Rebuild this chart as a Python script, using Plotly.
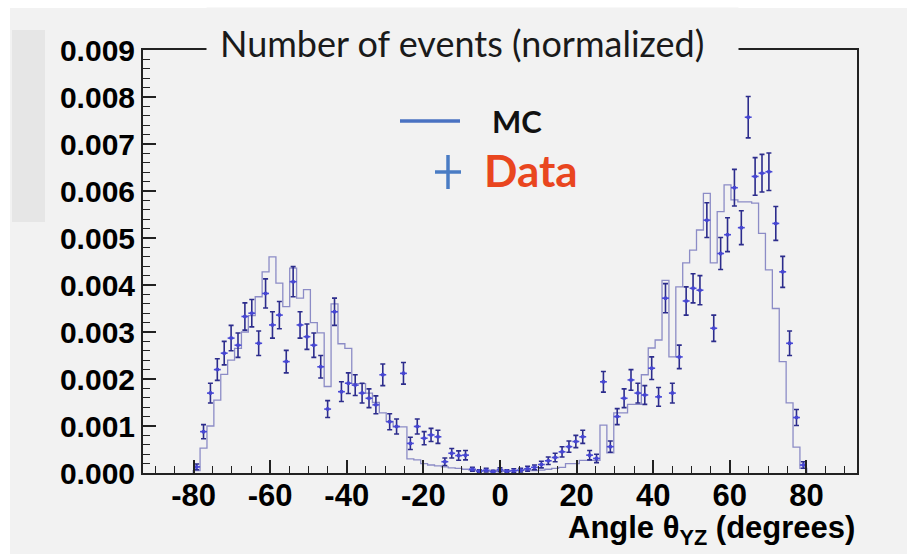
import plotly.graph_objects as go

# ---------------- data ----------------
bin_width = 1.8
bin_index = list(range(-44, 45))
angle_centers = [round(bin_width * k, 1) for k in bin_index]

data_vals = [
    0.00013, 0.00088, 0.00170, 0.00220, 0.00255, 0.00287, 0.00272, 0.00333, 0.00340, 0.00276,
    0.00382, 0.00315, 0.00336, 0.00237, 0.00407, 0.00315, 0.00290, 0.00272, 0.00226, 0.00136,
    0.00343, 0.00173, 0.00191, 0.00187, 0.00170, 0.00159, 0.00145, 0.00209, 0.00109, 0.00099,
    0.00212, 0.00063, 0.00099, 0.00074, 0.00081, 0.00077, 0.00024, 0.00042, 0.00037, 0.00038,
    0.00008, 0.00004, 0.00006, 0.00003, 0.00007, 0.00004, 0.00005, 0.00006, 0.00009, 0.00012,
    0.00018, 0.00026, 0.00033, 0.00045, 0.00056, 0.00067, 0.00077, 0.00038, 0.00031, 0.00194,
    0.00056, 0.00120, 0.00159, 0.00198, 0.00170, 0.00166, 0.00223, 0.00162, 0.00372, 0.00170,
    0.00247, 0.00366, 0.00393, 0.00389, 0.00538, 0.00308, 0.00467, 0.00507, 0.00607, 0.00522,
    0.00757, 0.00631, 0.00638, 0.00641, 0.00531, 0.00428, 0.00276, 0.00118, 0.00017,
]

data_errs = [
    0.00006, 0.00015, 0.00021, 0.00023, 0.00025, 0.00027, 0.00026, 0.00029, 0.00029, 0.00026,
    0.00031, 0.00028, 0.00029, 0.00024, 0.00032, 0.00028, 0.00027, 0.00026, 0.00024, 0.00018,
    0.00029, 0.00021, 0.00022, 0.00022, 0.00021, 0.00020, 0.00019, 0.00023, 0.00017, 0.00016,
    0.00023, 0.00013, 0.00016, 0.00014, 0.00014, 0.00014, 0.00008, 0.00010, 0.00010, 0.00010,
    0.00004, 0.00003, 0.00004, 0.00003, 0.00004, 0.00003, 0.00004, 0.00004, 0.00005, 0.00005,
    0.00007, 0.00008, 0.00009, 0.00011, 0.00012, 0.00013, 0.00014, 0.00010, 0.00009, 0.00022,
    0.00012, 0.00017, 0.00020, 0.00022, 0.00021, 0.00020, 0.00024, 0.00020, 0.00031, 0.00021,
    0.00025, 0.00030, 0.00031, 0.00031, 0.00037, 0.00028, 0.00034, 0.00036, 0.00039, 0.00036,
    0.00044, 0.00040, 0.00040, 0.00040, 0.00036, 0.00033, 0.00026, 0.00017, 0.00007,
]

mc_vals = [
    0.00005, 0.00053, 0.00100, 0.00155, 0.00210, 0.00240, 0.00265, 0.00300, 0.00335, 0.00375,
    0.00428, 0.00460, 0.00404, 0.00354, 0.00436, 0.00372, 0.00390, 0.00320, 0.00298, 0.00184,
    0.00360, 0.00275, 0.00265, 0.00190, 0.00190, 0.00170, 0.00150, 0.00128, 0.00110, 0.00098,
    0.00098, 0.00030, 0.00028, 0.00020, 0.00017, 0.00015, 0.00013, 0.00011, 0.00010, 0.00008,
    0.00006, 0.00005, 0.00004, 0.00004, 0.00005, 0.00004, 0.00005, 0.00006, 0.00007, 0.00005,
    0.00006, 0.00008, 0.00010, 0.00012, 0.00020, 0.00020, 0.00027, 0.00027, 0.00027, 0.00102,
    0.00043, 0.00128, 0.00128, 0.00146, 0.00146, 0.00209, 0.00266, 0.00283, 0.00410, 0.00247,
    0.00396, 0.00447, 0.00474, 0.00517, 0.00595, 0.00447, 0.00556, 0.00613, 0.00581, 0.00577,
    0.00577, 0.00574, 0.00510, 0.00432, 0.00350, 0.00237, 0.00149, 0.00055, 0.00010,
]

x_tick_vals = [-80, -60, -40, -20, 0, 20, 40, 60, 80]
y_tick_vals = [0.000, 0.001, 0.002, 0.003, 0.004, 0.005, 0.006, 0.007, 0.008, 0.009]

title_text = "Number of events (normalized)"
x_title_text = "Angle θ<sub>YZ</sub> (degrees)"

# ---------------- layout geometry ----------------
W, H = 907, 554
L, R, T, B = 143, 50, 50, 81
PW, PH = W - L - R, H - T - B


def px(x):
    return (x - L) / PW


def py(y):
    return (H - B - y) / PH


BG = "#f2f2f2"

# MC step histogram from bin edges
edges = [c - bin_width / 2 for c in angle_centers] + [angle_centers[-1] + bin_width / 2]
mc_x = [edges[0]] + edges + [edges[-1]]
mc_y = [0] + mc_vals + [mc_vals[-1]] + [0]

fig = go.Figure()

fig.add_trace(go.Scatter(
    x=mc_x, y=mc_y, mode="lines", line=dict(color="#8c8cc6", width=1.3, shape="hv"),
    showlegend=False, hoverinfo="skip",
))

fig.add_trace(go.Scatter(
    x=angle_centers, y=data_vals, mode="markers",
    marker=dict(color="#4646d2", size=4),
    error_y=dict(type="data", array=data_errs, color="#2c2c8c", thickness=1.6, width=2.5),
    error_x=dict(type="constant", value=bin_width / 2, color="#4a4ad6", thickness=1.6, width=0),
    showlegend=False,
))

shapes = [
    # page background
    dict(type="rect", xref="paper", yref="paper", x0=px(10), x1=px(W), y0=py(H), y1=py(8),
         fillcolor=BG, line=dict(width=0), layer="below"),
    dict(type="rect", xref="paper", yref="paper", x0=px(12), x1=px(45), y0=py(222), y1=py(30),
         fillcolor="#e6e6e6", line=dict(width=0), layer="below"),
    # legend: MC line
    dict(type="line", xref="paper", yref="paper", x0=px(400), x1=px(460), y0=py(121), y1=py(121),
         line=dict(color="#4a72c2", width=3.5)),
    # legend: data cross
    dict(type="line", xref="paper", yref="paper", x0=px(448), x1=px(448), y0=py(155), y1=py(189),
         line=dict(color="#4a7cc4", width=3.5)),
    dict(type="line", xref="paper", yref="paper", x0=px(435), x1=px(461), y0=py(172), y1=py(172),
         line=dict(color="#4a7cc4", width=3.5)),
]

annotations = [
    dict(text=title_text, xref="paper", yref="paper", x=px(472.5), y=py(43),
         xanchor="center", yanchor="middle", showarrow=False, align="left",
         width=505, borderpad=13, bgcolor=BG,
         font=dict(family="Lato", size=36, color="#1a1a1a")),
    dict(text="<b>MC</b>", xref="paper", yref="paper", x=px(490), y=py(121),
         xanchor="left", yanchor="middle", showarrow=False,
         font=dict(family="Lato", size=31, color="#111111")),
    dict(text="<b>Data</b>", xref="paper", yref="paper", x=px(482), y=py(170),
         xanchor="left", yanchor="middle", showarrow=False,
         font=dict(family="Lato", size=44, color="#e9461f")),
    dict(text="<b>" + x_title_text + "</b>", xref="paper", yref="paper", x=px(857), y=py(530),
         xanchor="right", yanchor="middle", showarrow=False,
         font=dict(family="Liberation Sans", size=31, color="#000000")),
]

fig.update_layout(
    width=W, height=H,
    margin=dict(l=L, r=R, t=T, b=B, pad=0),
    paper_bgcolor="#ffffff", plot_bgcolor=BG,
    shapes=shapes, annotations=annotations,
    showlegend=False,
    xaxis=dict(
        range=[-93.2, 93.2], tickvals=x_tick_vals, ticktext=[str(v) for v in x_tick_vals],
        ticks="inside", ticklen=13, tickwidth=1.5, tickcolor="#222",
        minor=dict(ticks="inside", ticklen=7, dtick=5, tick0=0, tickcolor="#222", tickwidth=1.2, showgrid=False),
        showline=True, linecolor="#222", linewidth=2, mirror=True,
        showgrid=False, zeroline=False, ticklabelstandoff=-6,
        tickfont=dict(family="Liberation Sans", size=31, color="#000", weight="bold"),
    ),
    yaxis=dict(
        range=[0, 0.009], tickvals=y_tick_vals, tickformat=".3f",
        ticks="inside", ticklen=13, tickwidth=1.5, tickcolor="#222",
        minor=dict(ticks="inside", ticklen=7, dtick=0.0002, tick0=0, tickcolor="#222", tickwidth=1.2, showgrid=False),
        showline=True, linecolor="#222", linewidth=2, mirror=True,
        showgrid=False, zeroline=False,
        tickfont=dict(family="Liberation Sans", size=30, color="#000", weight="bold"),
    ),
)

fig.write_html("out.html")
